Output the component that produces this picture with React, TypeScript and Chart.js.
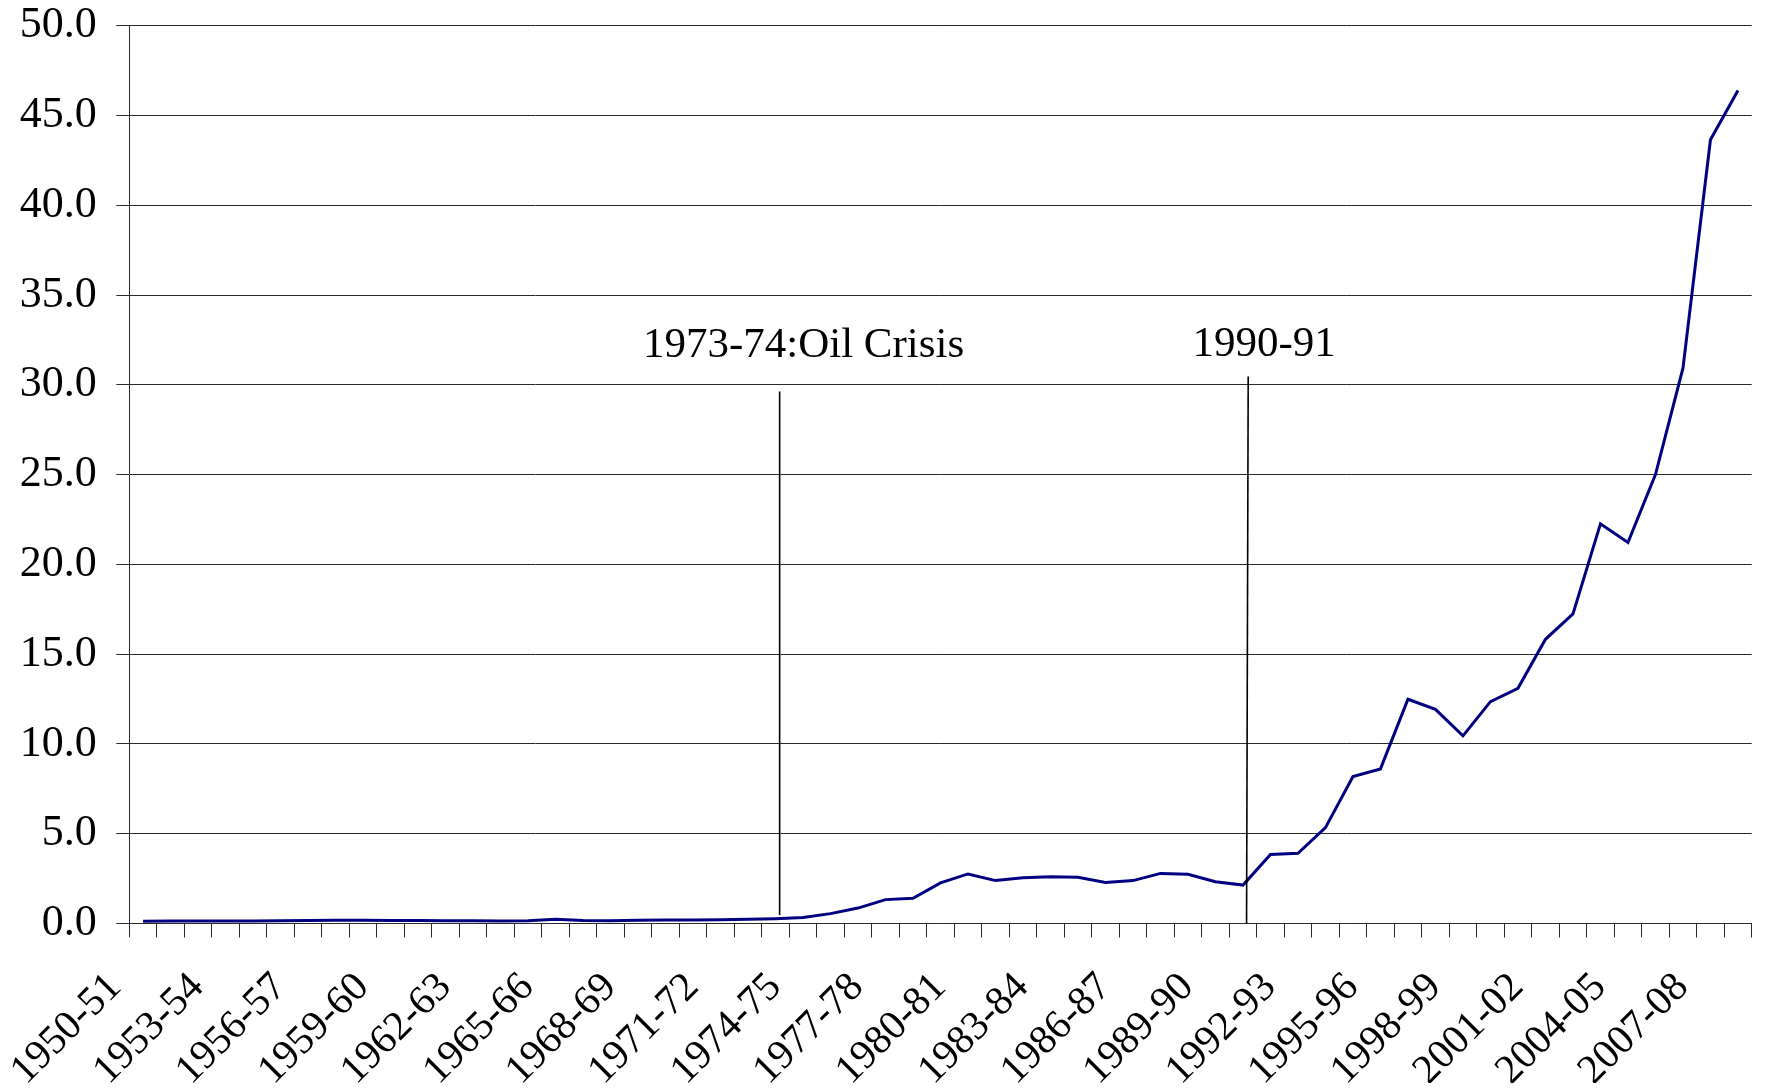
import React, { useEffect, useRef } from "react";
import { Chart, registerables } from "chart.js";

Chart.register(...registerables);

const categories: string[] = [
  "1950-51", "1951-52", "1952-53", "1953-54", "1954-55", "1955-56", "1956-57", "1957-58", "1958-59", "1959-60",
  "1960-61", "1961-62", "1962-63", "1963-64", "1964-65", "1965-66", "1966-67", "1967-68", "1968-69", "1969-70",
  "1970-71", "1971-72", "1972-73", "1973-74", "1974-75", "1975-76", "1976-77", "1977-78", "1978-79", "1979-80",
  "1980-81", "1981-82", "1982-83", "1983-84", "1984-85", "1985-86", "1986-87", "1987-88", "1988-89", "1989-90",
  "1990-91", "1991-92", "1992-93", "1993-94", "1994-95", "1995-96", "1996-97", "1997-98", "1998-99", "1999-00",
  "2000-01", "2001-02", "2002-03", "2003-04", "2004-05", "2005-06", "2006-07", "2007-08", "2008-09",
];

const values: number[] = [
  0.13, 0.14, 0.14, 0.14, 0.14, 0.15, 0.17, 0.18, 0.18, 0.17,
  0.17, 0.16, 0.15, 0.14, 0.15, 0.24, 0.17, 0.16, 0.18, 0.19,
  0.2, 0.21, 0.23, 0.27, 0.34, 0.55, 0.86, 1.33, 1.4, 2.26,
  2.76, 2.39, 2.55, 2.61, 2.57, 2.29, 2.39, 2.79, 2.74, 2.33,
  2.14, 3.85, 3.91, 5.34, 8.18, 8.61, 12.49, 11.93, 10.45, 12.36,
  13.1, 15.83, 17.24, 22.26, 21.22, 25.0, 30.93, 43.65, 46.4,
];

const tickLabels: string[] = [
  "1950-51", "1953-54", "1956-57", "1959-60", "1962-63", "1965-66", "1968-69",
  "1971-72", "1974-75", "1977-78", "1980-81", "1983-84", "1986-87", "1989-90",
  "1992-93", "1995-96", "1998-99", "2001-02", "2004-05", "2007-08",
];

const yMin = 0;
const yMax = 50;
const yStep = 5;

// annotations (in data units: category index / value)
const annotationTexts: string[] = ["1973-74:Oil Crisis", "1990-91"];
const annotationTextX: number[] = [24.02, 40.77];
const annotationTextY: number[] = [31.58, 31.63];
const annotationLineXTop: number[] = [23.15, 40.19];
const annotationLineXBottom: number[] = [23.15, 40.13];
const annotationLineYTop: number[] = [29.63, 30.46];
const annotationLineYBottom: number[] = [0.47, 0];

const FONT = "'Liberation Serif', 'Times New Roman', serif";
const GRID = "#2a2a2a";

export default function App() {
  const canvasRef = useRef<HTMLCanvasElement | null>(null);

  useEffect(() => {
    if (!canvasRef.current) return;

    const overlay = {
      id: "overlay",
      afterDraw(chart: any) {
        const ctx = chart.ctx as CanvasRenderingContext2D;
        const xs = chart.scales.x;
        const ys = chart.scales.y;
        ctx.save();
        // x tick labels (rotated)
        ctx.fillStyle = "#000";
        ctx.font = `41px ${FONT}`;
        ctx.textAlign = "right";
        ctx.textBaseline = "middle";
        tickLabels.forEach((lab) => {
          const idx = categories.indexOf(lab);
          const px = xs.getPixelForValue(idx);
          ctx.save();
          ctx.translate(px - 28, xs.top + 57.5);
          ctx.rotate(-Math.PI / 4);
          ctx.fillText(lab, 0, 0);
          ctx.restore();
        });
        // annotation lines
        ctx.strokeStyle = "#000";
        ctx.lineWidth = 1.6;
        annotationTexts.forEach((_, k) => {
          ctx.beginPath();
          ctx.moveTo(xs.getPixelForValue(annotationLineXTop[k]), ys.getPixelForValue(annotationLineYTop[k]));
          ctx.lineTo(xs.getPixelForValue(annotationLineXBottom[k]), ys.getPixelForValue(annotationLineYBottom[k]));
          ctx.stroke();
        });
        // annotation texts
        ctx.font = `43px ${FONT}`;
        ctx.textAlign = "center";
        ctx.textBaseline = "alphabetic";
        annotationTexts.forEach((t, k) => {
          ctx.fillText(t, xs.getPixelForValue(annotationTextX[k]), ys.getPixelForValue(annotationTextY[k]));
        });
        ctx.restore();
      },
    };

    const chart = new Chart(canvasRef.current, {
      type: "line",
      data: {
        labels: categories,
        datasets: [
          {
            data: values,
            borderColor: "#000080",
            backgroundColor: "#000080",
            borderWidth: 3,
            pointRadius: 0,
            tension: 0,
            fill: false,
          },
        ],
      },
      options: {
        animation: false,
        responsive: false,
        maintainAspectRatio: false,
        layout: { padding: { left: 0, right: 6.3, top: 17.8, bottom: 0 } },
        plugins: {
          legend: { display: false },
          tooltip: { enabled: false },
        },
        scales: {
          x: {
            type: "category",
            offset: true,
            grid: {
              offset: true,
              drawOnChartArea: false,
              drawTicks: true,
              tickLength: 14,
              color: GRID,
              lineWidth: 1,
            },
            border: { display: true, color: GRID, width: 1 },
            ticks: { display: false, autoSkip: false },
            afterFit: (scale: any) => {
              scale.height = 159.5;
              scale.paddingLeft = 0;
              scale.paddingRight = 0;
            },
          },
          y: {
            min: yMin,
            max: yMax,
            grid: {
              color: GRID,
              lineWidth: 1,
              drawTicks: true,
              tickLength: 13,
            },
            border: { display: true, color: GRID, width: 1 },
            ticks: {
              stepSize: yStep,
              padding: 19.6,
              color: "#000",
              font: { family: FONT, size: 44 },
              callback: (v: any) => Number(v).toFixed(1),
            },
            afterFit: (scale: any) => {
              scale.width = 121.3;
              scale.paddingTop = 0;
              scale.paddingBottom = 0;
            },
          },
        },
      },
      plugins: [overlay],
    });

    return () => {
      chart.destroy();
    };
  }, []);

  return (
    <div style={{ width: "1750px", height: "1075px" }}>
      <canvas ref={canvasRef} width={1750} height={1075} style={{ width: "1750px", height: "1075px", display: "block" }} />
    </div>
  );
}
